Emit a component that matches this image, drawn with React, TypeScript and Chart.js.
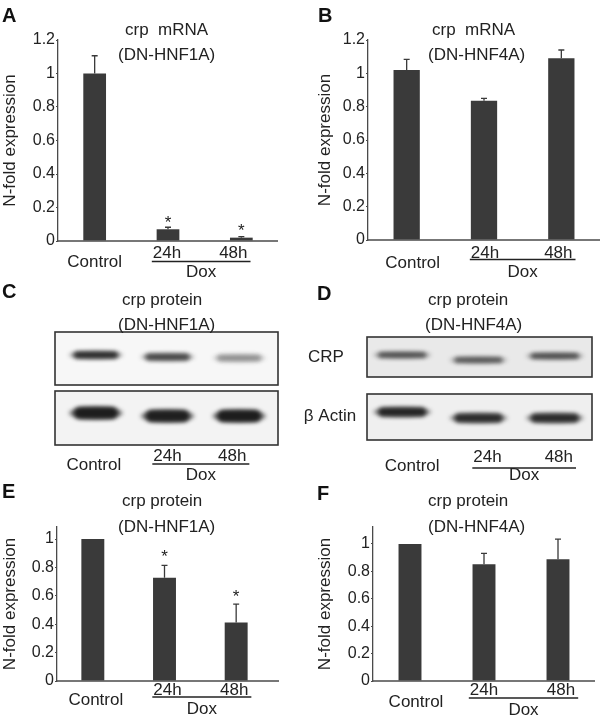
import React, { useEffect, useRef } from 'react';
import { Chart, registerables } from 'chart.js';
Chart.register(...registerables);

const FONT = '"Liberation Sans", Arial, Helvetica, sans-serif';
const INK = '#222222';
const BAR = '#3a3a3a';
const AXIS = '#4a4a4a';

// ---------- data ----------
const categories = ['Control', '24h', '48h'];
const groupLabel = 'Dox';
const yTitle = 'N-fold expression';

// A: crp mRNA (DN-HNF1A)
const mrnaHnf1a = [1.0, 0.07, 0.02];
const mrnaHnf1aErr = [0.106, 0.012, 0.006];
const mrnaHnf1aStar = [null, 0.137, 0.091];
// B: crp mRNA (DN-HNF4A)
const mrnaHnf4a = [1.02, 0.836, 1.09];
const mrnaHnf4aErr = [0.064, 0.014, 0.05];
// E: crp protein (DN-HNF1A)
const protHnf1a = [1.0, 0.727, 0.413];
const protHnf1aErr = [0, 0.088, 0.129];
const protHnf1aStar = [null, 0.91, 0.63];
// F: crp protein (DN-HNF4A)
const protHnf4a = [1.0, 0.852, 0.888];
const protHnf4aErr = [0, 0.08, 0.148];

const mrnaTicks = [0, 0.2, 0.4, 0.6, 0.8, 1, 1.2];
const protTicks = [0, 0.2, 0.4, 0.6, 0.8, 1];

// western blot band darkness (0..1)
const crpBandC = [0.85, 0.68, 0.34];
const actinBandC = [0.96, 0.94, 0.96];
const crpBandD = [0.62, 0.58, 0.64];
const actinBandD = [0.9, 0.84, 0.84];

// ---------- helpers ----------
function font(size: number, bold = false) {
  return `${bold ? 'bold ' : ''}${size}px ${FONT}`;
}

function drawDoseLabels(ctx: any, xs: number[], base: { ctrl: number; hrs: number; line: number; dox: number }) {
  ctx.fillStyle = INK;
  ctx.strokeStyle = INK;
  ctx.font = font(17);
  ctx.textAlign = 'center';
  ctx.textBaseline = 'alphabetic';
  ctx.fillText(categories[0], xs[0], base.ctrl);
  ctx.fillText(categories[1], xs[1], base.hrs);
  ctx.fillText(categories[2], xs[2], base.hrs);
  const w1 = ctx.measureText(categories[1]).width;
  const w2 = ctx.measureText(categories[2]).width;
  const l = xs[1] - w1 / 2 - 1;
  const r = xs[2] + w2 / 2 + 3;
  ctx.lineWidth = 1.3;
  ctx.beginPath();
  ctx.moveTo(l, base.line);
  ctx.lineTo(r, base.line);
  ctx.stroke();
  ctx.fillText(groupLabel, (l + r) / 2, base.dox);
}

type BarCfg = {
  letter: string; lx: number; lb: number;
  t1: string; t1x: number; t1b: number;
  t2: string; t2x: number; t2b: number;
  values: number[]; errors: number[]; stars?: (number | null)[];
  yMax: number; ticks: number[];
  pad: { top: number; bottom: number; left: number; right: number };
  axisWidth: number; titlePad: number; axisRight: number; barPct: number;
  lbl: { ctrl: number; hrs: number; line: number; dox: number };
  shift: number[];
};

function buildBar(canvas: HTMLCanvasElement, cfg: BarCfg) {
  const decor = {
    id: 'decor',
    afterDatasetsDraw(chart: any) {
      const ctx = chart.ctx;
      const xs = chart.scales.x;
      const ys = chart.scales.y;
      const area = chart.chartArea;
      ctx.save();
      // error bars (upper only)
      ctx.strokeStyle = BAR;
      ctx.lineWidth = 1.3;
      cfg.values.forEach((v, i) => {
        const e = cfg.errors[i];
        if (!e) return;
        const px = xs.getPixelForValue(i);
        const y0 = ys.getPixelForValue(v);
        const y1 = ys.getPixelForValue(v + e);
        ctx.beginPath();
        ctx.moveTo(px, y0);
        ctx.lineTo(px, y1);
        ctx.moveTo(px - 3, y1);
        ctx.lineTo(px + 3, y1);
        ctx.stroke();
      });
      // significance stars
      ctx.fillStyle = INK;
      ctx.font = font(17);
      ctx.textAlign = 'center';
      ctx.textBaseline = 'alphabetic';
      (cfg.stars || []).forEach((s, i) => {
        if (s == null) return;
        ctx.fillText('*', xs.getPixelForValue(i), ys.getPixelForValue(s) + 10);
      });
      // x axis line
      const ay = area.bottom;
      ctx.strokeStyle = AXIS;
      ctx.lineWidth = 1.5;
      ctx.beginPath();
      ctx.moveTo(area.left, ay);
      ctx.lineTo(cfg.axisRight, ay);
      ctx.stroke();
      // category labels
      const px = [0, 1, 2].map((i) => xs.getPixelForValue(i) + cfg.shift[i]);
      drawDoseLabels(ctx, px, {
        ctrl: ay + cfg.lbl.ctrl,
        hrs: ay + cfg.lbl.hrs,
        line: ay + cfg.lbl.line,
        dox: ay + cfg.lbl.dox,
      });
      // titles
      ctx.fillStyle = INK;
      ctx.font = font(17);
      ctx.textAlign = 'left';
      ctx.fillText(cfg.t1, cfg.t1x, cfg.t1b);
      ctx.fillText(cfg.t2, cfg.t2x, cfg.t2b);
      ctx.font = font(20, true);
      ctx.fillStyle = '#111';
      ctx.fillText(cfg.letter, cfg.lx, cfg.lb);
      ctx.restore();
    },
  };
  return new Chart(canvas, {
    type: 'bar',
    data: {
      labels: categories,
      datasets: [
        {
          data: cfg.values,
          backgroundColor: BAR,
          borderWidth: 0,
          barPercentage: cfg.barPct,
          categoryPercentage: 1,
        },
      ],
    },
    options: {
      responsive: false,
      animation: false,
      devicePixelRatio: 1,
      layout: { padding: cfg.pad },
      plugins: { legend: { display: false }, tooltip: { enabled: false }, title: { display: false } },
      scales: {
        x: {
          type: 'category',
          offset: true,
          grid: { display: false },
          border: { display: false },
          ticks: { display: false },
          afterFit: (s: any) => {
            s.height = 0;
          },
        },
        y: {
          min: 0,
          max: cfg.yMax,
          afterBuildTicks: (s: any) => {
            s.ticks = cfg.ticks.map((v) => ({ value: v }));
          },
          afterFit: (s: any) => {
            s.width = cfg.axisWidth;
          },
          grid: { display: true, drawOnChartArea: false, drawTicks: true, tickLength: 2, color: AXIS, lineWidth: 1 },
          border: { display: true, color: AXIS, width: 1.3 },
          ticks: {
            font: { size: 16, family: FONT },
            color: INK,
            padding: 1,
            callback: (v: any) => String(v),
          },
          title: {
            display: true,
            text: yTitle,
            font: { size: 17, family: FONT },
            color: INK,
            padding: { top: cfg.titlePad, bottom: 0 },
          },
        },
      },
    } as any,
    plugins: [decor],
  });
}

type BlotCfg = {
  letter: string; lx: number; lb: number;
  t1: string; t1x: number; t1b: number;
  t2: string; t2x: number; t2b: number;
  crp: number[]; actin: number[];
  pad: { top: number; bottom: number; left: number; right: number };
  boxes: { x0: number; x1: number; y0: number; y1: number; fill: string }[];
  rowY: number[][]; rowH: number[]; bandW: number;
  rowLabels?: { text: string; x: number; b: number }[];
  lblX: number[]; lbl: { ctrl: number; hrs: number; line: number; dox: number };
};

function buildBlot(canvas: HTMLCanvasElement, cfg: BlotCfg) {
  const decor = {
    id: 'blot',
    afterDraw(chart: any) {
      const ctx = chart.ctx;
      const xs = chart.scales.x;
      ctx.save();
      cfg.boxes.forEach((b, row) => {
        ctx.fillStyle = b.fill;
        ctx.fillRect(b.x0, b.y0, b.x1 - b.x0, b.y1 - b.y0);
        const ds = chart.data.datasets[row].data as number[];
        ctx.save();
        ctx.beginPath();
        ctx.rect(b.x0, b.y0, b.x1 - b.x0, b.y1 - b.y0);
        ctx.clip();
        ctx.filter = 'blur(2.2px)';
        ds.forEach((d, i) => {
          const cx = xs.getPixelForValue(i);
          const cy = cfg.rowY[row][i];
          const h = cfg.rowH[row];
          ctx.fillStyle = `rgba(25,25,25,${d * 0.6})`;
          ctx.beginPath();
          ctx.ellipse(cx, cy, cfg.bandW / 2, h / 2, 0, 0, Math.PI * 2);
          ctx.fill();
          ctx.fillStyle = `rgba(25,25,25,${d})`;
          ctx.beginPath();
          (ctx as any).roundRect(cx - cfg.bandW / 2 + 5, cy - h / 2, cfg.bandW - 10, h, h / 2);
          ctx.fill();
        });
        ctx.restore();
        ctx.strokeStyle = '#333';
        ctx.lineWidth = 1.6;
        ctx.strokeRect(b.x0, b.y0, b.x1 - b.x0, b.y1 - b.y0);
      });
      ctx.fillStyle = INK;
      ctx.font = font(17);
      ctx.textAlign = 'center';
      (cfg.rowLabels || []).forEach((r) => ctx.fillText(r.text, r.x, r.b));
      const px = [0, 1, 2].map((i) => xs.getPixelForValue(i) + cfg.lblX[i]);
      drawDoseLabels(ctx, px, cfg.lbl);
      ctx.fillStyle = INK;
      ctx.font = font(17);
      ctx.textAlign = 'left';
      ctx.fillText(cfg.t1, cfg.t1x, cfg.t1b);
      ctx.fillText(cfg.t2, cfg.t2x, cfg.t2b);
      ctx.font = font(20, true);
      ctx.fillStyle = '#111';
      ctx.fillText(cfg.letter, cfg.lx, cfg.lb);
      ctx.restore();
    },
  };
  return new Chart(canvas, {
    type: 'bar',
    data: {
      labels: categories,
      datasets: [
        { label: 'CRP', data: cfg.crp, backgroundColor: 'rgba(0,0,0,0)', borderWidth: 0 },
        { label: 'β Actin', data: cfg.actin, backgroundColor: 'rgba(0,0,0,0)', borderWidth: 0 },
      ],
    },
    options: {
      responsive: false,
      animation: false,
      devicePixelRatio: 1,
      layout: { padding: cfg.pad },
      plugins: { legend: { display: false }, tooltip: { enabled: false } },
      scales: { x: { display: false, offset: true }, y: { display: false, min: 0, max: 100 } },
    } as any,
    plugins: [decor],
  });
}

function ChartBox(props: { left: number; top: number; width: number; height: number; build: (c: HTMLCanvasElement) => Chart }) {
  const ref = useRef<HTMLCanvasElement>(null);
  useEffect(() => {
    const chart = props.build(ref.current as HTMLCanvasElement);
    return () => chart.destroy();
  }, []);
  return (
    <canvas
      ref={ref}
      width={props.width}
      height={props.height}
      style={{ position: 'absolute', left: props.left, top: props.top, width: props.width, height: props.height, display: 'block' }}
    />
  );
}

const cfgA: BarCfg = {
  letter: 'A', lx: 2, lb: 22,
  t1: 'crp  mRNA', t1x: 125, t1b: 35,
  t2: '(DN-HNF1A)', t2x: 118, t2b: 60,
  values: mrnaHnf1a, errors: mrnaHnf1aErr, stars: mrnaHnf1aStar,
  yMax: 1.2, ticks: mrnaTicks,
  pad: { top: 40, bottom: 49, left: 0, right: 22 },
  axisWidth: 58, titlePad: 0, axisRight: 278, barPct: 0.31,
  lbl: { ctrl: 26, hrs: 17, line: 20.5, dox: 36 },
  shift: [0, -1, -8],
};

const cfgB: BarCfg = {
  letter: 'B', lx: 18, lb: 22,
  t1: 'crp  mRNA', t1x: 132, t1b: 35,
  t2: '(DN-HNF4A)', t2x: 128, t2b: 60,
  values: mrnaHnf4a, errors: mrnaHnf4aErr,
  yMax: 1.2, ticks: mrnaTicks,
  pad: { top: 40, bottom: 50, left: 0, right: 0 },
  axisWidth: 68, titlePad: 15, axisRight: 300, barPct: 0.34,
  lbl: { ctrl: 28, hrs: 18, line: 19.5, dox: 37 },
  shift: [6, 1, -3],
};

const cfgE: BarCfg = {
  letter: 'E', lx: 2, lb: 28,
  t1: 'crp protein', t1x: 122, t1b: 36,
  t2: '(DN-HNF1A)', t2x: 118, t2b: 62,
  values: protHnf1a, errors: protHnf1aErr, stars: protHnf1aStar,
  yMax: 1.085, ticks: protTicks,
  pad: { top: 57, bottom: 37, left: 0, right: 28 },
  axisWidth: 57, titlePad: 0, axisRight: 279, barPct: 0.32,
  lbl: { ctrl: 24, hrs: 14, line: 16, dox: 33 },
  shift: [3, 3, -2],
};

const cfgF: BarCfg = {
  letter: 'F', lx: 17, lb: 30,
  t1: 'crp protein', t1x: 128, t1b: 36,
  t2: '(DN-HNF4A)', t2x: 128, t2b: 62,
  values: protHnf4a, errors: protHnf4aErr,
  yMax: 1.124, ticks: protTicks,
  pad: { top: 57, bottom: 37, left: 0, right: 5 },
  axisWidth: 73, titlePad: 15, axisRight: 295, barPct: 0.31,
  lbl: { ctrl: 26, hrs: 14, line: 17, dox: 34 },
  shift: [6, 0, 3],
};

const cfgC: BlotCfg = {
  letter: 'C', lx: 2, lb: 23,
  t1: 'crp protein', t1x: 122, t1b: 30,
  t2: '(DN-HNF1A)', t2x: 118, t2b: 55,
  crp: crpBandC, actin: actinBandC,
  pad: { top: 0, bottom: 0, left: 60, right: 25 },
  boxes: [
    { x0: 55, x1: 278, y0: 57, y1: 110, fill: '#f7f7f7' },
    { x0: 55, x1: 278, y0: 116, y1: 170, fill: '#f3f3f3' },
  ],
  rowY: [[80, 82, 83], [138, 141, 141]],
  rowH: [7, 12], bandW: 54,
  lblX: [-2, 0, -7],
  lbl: { ctrl: 195, hrs: 186, line: 189, dox: 205 },
};

const cfgD: BlotCfg = {
  letter: 'D', lx: 37, lb: 25,
  t1: 'crp protein', t1x: 148, t1b: 30,
  t2: '(DN-HNF4A)', t2x: 145, t2b: 55,
  crp: crpBandD, actin: actinBandD,
  pad: { top: 0, bottom: 0, left: 84, right: 7 },
  boxes: [
    { x0: 87, x1: 312, y0: 62, y1: 102, fill: '#e9e9e9' },
    { x0: 87, x1: 312, y0: 119, y1: 165, fill: '#efefef' },
  ],
  rowY: [[80, 85, 81], [137, 143, 143]],
  rowH: [6, 9], bandW: 58,
  rowLabels: [
    { text: 'CRP', x: 46, b: 87 },
    { text: 'β Actin', x: 50, b: 146 },
  ],
  lblX: [10, 9, 4],
  lbl: { ctrl: 196, hrs: 187, line: 193, dox: 205 },
};

export default function App() {
  useEffect(() => {
    document.body.style.margin = '0';
    document.body.style.background = '#ffffff';
  }, []);
  return (
    <div style={{ position: 'absolute', left: 0, top: 0, width: 600, height: 718, background: '#fff', overflow: 'hidden' }}>
      <ChartBox left={0} top={0} width={300} height={290} build={(c) => buildBar(c, cfgA)} />
      <ChartBox left={300} top={0} width={300} height={290} build={(c) => buildBar(c, cfgB)} />
      <ChartBox left={0} top={275} width={300} height={210} build={(c) => buildBlot(c, cfgC)} />
      <ChartBox left={280} top={275} width={320} height={210} build={(c) => buildBlot(c, cfgD)} />
      <ChartBox left={0} top={470} width={300} height={248} build={(c) => buildBar(c, cfgE)} />
      <ChartBox left={300} top={470} width={300} height={248} build={(c) => buildBar(c, cfgF)} />
    </div>
  );
}
